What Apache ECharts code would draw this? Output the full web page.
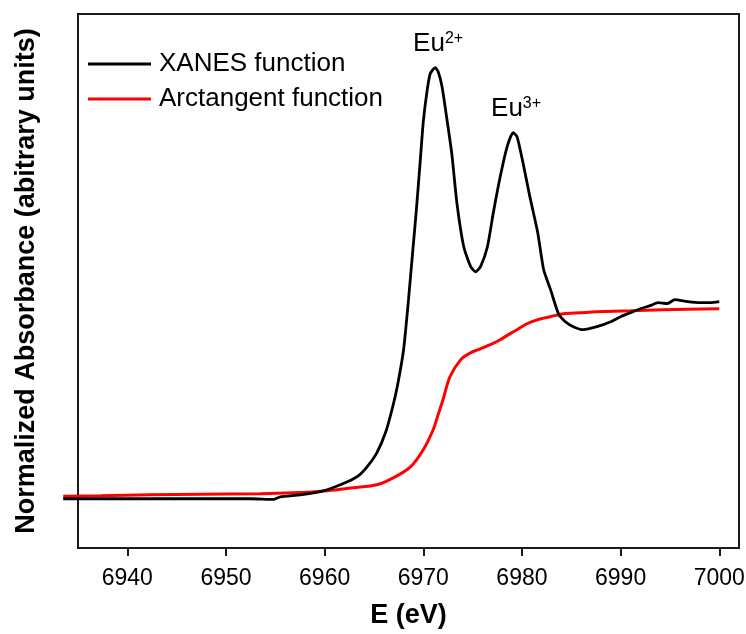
<!DOCTYPE html>
<html>
<head>
<meta charset="utf-8">
<title>Eu L3-edge XANES</title>
<script src="https://cdn.jsdelivr.net/npm/echarts@6/dist/echarts.min.js"></script>
<style>
  html, body { margin: 0; padding: 0; background: #ffffff; }
  #chart { width: 746px; height: 634px; }
</style>
</head>
<body>
<div id="chart"></div>
<script>
// Measured XANES spectrum (energy in eV, normalized absorbance)
const xanesEnergy = [6933.5, 6937.3, 6942.3, 6947.4, 6952.5, 6954.8, 6955.5, 6957.5, 6959.6, 6961.6,
  6963.3, 6964.3, 6965.3, 6966.2, 6966.9, 6967.4, 6968.0, 6968.5, 6968.9, 6969.3,
  6969.7, 6970.0, 6970.4, 6970.7, 6971.2, 6971.5, 6971.9, 6972.4, 6972.9, 6973.4,
  6974.1, 6974.8, 6975.3, 6975.8, 6976.5, 6977.1, 6977.8, 6978.5, 6979.1, 6979.5,
  6980.1, 6980.8, 6981.6, 6982.2, 6982.9, 6983.7, 6984.4, 6985.2, 6986.2, 6987.6,
  6989.0, 6990.0, 6991.0, 6992.0, 6993.0, 6993.8, 6994.7, 6995.5, 6996.8, 6998.1,
  6999.1, 7000.0];
const xanesAbsorbance = [0, 0, 0, 0, 0, -0.003, 0.010, 0.020, 0.036, 0.071,
  0.112, 0.162, 0.234, 0.340, 0.467, 0.579, 0.756, 1.010, 1.239, 1.467,
  1.721, 1.914, 2.076, 2.157, 2.188, 2.168, 2.091, 1.924, 1.746, 1.503,
  1.279, 1.178, 1.152, 1.178, 1.279, 1.452, 1.635, 1.787, 1.858, 1.838,
  1.706, 1.533, 1.350, 1.162, 1.061, 0.939, 0.898, 0.873, 0.858, 0.873,
  0.898, 0.924, 0.944, 0.964, 0.980, 0.995, 0.990, 1.010, 1.000, 0.995,
  0.995, 1.000];

// Arctangent edge-step model
const arctanEnergy = [6933.5, 6937.3, 6942.3, 6947.4, 6953.5, 6956.8, 6960.3, 6962.9, 6965.3, 6967.0,
  6968.7, 6970.0, 6971.0, 6971.5, 6972.0, 6972.7, 6973.8, 6974.8, 6975.5, 6976.8,
  6977.8, 6978.8, 6979.5, 6980.5, 6981.6, 6982.9, 6984.2, 6985.9, 6987.6, 6991.0,
  6994.3, 7000.0];
const arctanAbsorbance = [0.013, 0.015, 0.020, 0.023, 0.025, 0.030, 0.041, 0.056, 0.071, 0.107,
  0.162, 0.249, 0.350, 0.426, 0.503, 0.619, 0.706, 0.741, 0.756, 0.782,
  0.807, 0.838, 0.858, 0.888, 0.909, 0.924, 0.939, 0.944, 0.949, 0.954,
  0.959, 0.964];

const energyTicks = [6940, 6950, 6960, 6970, 6980, 6990, 7000];
const seriesNames = ['XANES function', 'Arctangent function'];
// white-line peaks: oxidation state and the energy window holding each maximum
const peakStates = ['2+', '3+'];
const peakWindows = [[6968, 6975], [6976, 6983]];

// axis ranges: framed window, and the scan itself which starts a little before it
const frameMinE = 6935, frameMaxE = 7002;
const absMin = -0.25, absMax = 2.46;
const scanMinE = Math.min(xanesEnergy[0], arctanEnergy[0]);

function pairs(xs, ys) { return xs.map((x, i) => [x, ys[i]]); }

function peakIn(win) {
  let best = -1;
  xanesEnergy.forEach((e, i) => {
    if (e >= win[0] && e <= win[1] && (best < 0 || xanesAbsorbance[i] > xanesAbsorbance[best])) best = i;
  });
  return [xanesEnergy[best], xanesAbsorbance[best]];
}

const sansFont = '"Liberation Sans", Arial, sans-serif';
const frameLeft = 78, frameRight = 7;
// the curve grid shares the frame's px/eV scale but starts at the first scan point
const pxPerEv = (746 - frameLeft - frameRight) / (frameMaxE - frameMinE);
const curveLeft = frameLeft - (frameMinE - scanMinE) * pxPerEv;

const chart = echarts.init(document.getElementById('chart'), null, { renderer: 'canvas' });
chart.setOption({
  animation: false,
  backgroundColor: '#ffffff',
  grid: [
    { // framed plot with the visible axes
      left: frameLeft, right: frameRight, top: 14, bottom: 86,
      outerBoundsMode: 'none', containLabel: false,
      show: true, borderColor: '#1a1a1a', borderWidth: 2, backgroundColor: 'transparent'
    },
    { // curve layer
      left: curveLeft, right: frameRight, top: 14, bottom: 86,
      outerBoundsMode: 'none', containLabel: false, show: false
    }
  ],
  legend: {
    data: seriesNames,
    orient: 'vertical',
    left: 83, top: 46,
    icon: 'rect', itemWidth: 63, itemHeight: 3, itemGap: 9,
    textStyle: { fontFamily: sansFont, fontSize: 26, color: '#000', padding: [0, 0, 0, 3] }
  },
  xAxis: [
    {
      gridIndex: 0, type: 'value', min: frameMinE, max: frameMaxE,
      name: 'E (eV)', nameLocation: 'middle', nameGap: 54,
      nameTextStyle: { fontFamily: sansFont, fontSize: 27, fontWeight: 'bold', color: '#000' },
      axisLine: { show: true, onZero: false, lineStyle: { color: '#1a1a1a', width: 2 } },
      axisTick: { show: true, length: 8, lineStyle: { color: '#1a1a1a', width: 2 }, customValues: energyTicks },
      axisLabel: {
        fontFamily: sansFont, fontSize: 23, color: '#000', margin: 19,
        customValues: energyTicks, formatter: v => String(v)
      },
      splitLine: { show: false }
    },
    {
      gridIndex: 1, type: 'value', min: scanMinE, max: frameMaxE, show: false
    }
  ],
  yAxis: [
    {
      gridIndex: 0, type: 'value', min: absMin, max: absMax,
      name: 'Normalized Absorbance (abitrary units)', nameLocation: 'middle', nameGap: 38,
      nameTextStyle: { fontFamily: sansFont, fontSize: 27, fontWeight: 'bold', color: '#000' },
      axisLine: { show: true, onZero: false, lineStyle: { color: '#1a1a1a', width: 2 } },
      axisTick: { show: false },
      axisLabel: { show: false },
      splitLine: { show: false }
    },
    {
      gridIndex: 1, type: 'value', min: absMin, max: absMax, show: false
    }
  ],
  series: [
    {
      name: seriesNames[0], type: 'line', xAxisIndex: 1, yAxisIndex: 1,
      data: pairs(xanesEnergy, xanesAbsorbance),
      showSymbol: false, smooth: 0.2, clip: false,
      lineStyle: { color: '#000', width: 2.8 }, itemStyle: { color: '#000' },
      markPoint: {
        symbol: 'circle', symbolSize: 0, silent: true,
        label: {
          show: true, position: 'top', distance: 11, offset: [3, 0],
          formatter: p => '{b|Eu}{s|' + p.name + '}',
          rich: {
            b: { fontFamily: sansFont, fontSize: 26, color: '#000' },
            s: { fontFamily: sansFont, fontSize: 16, color: '#000', verticalAlign: 'top', lineHeight: 14 }
          }
        },
        data: peakStates.map((st, k) => ({ name: st, coord: peakIn(peakWindows[k]) }))
      },
      z: 3
    },
    {
      name: seriesNames[1], type: 'line', xAxisIndex: 1, yAxisIndex: 1,
      data: pairs(arctanEnergy, arctanAbsorbance),
      showSymbol: false, smooth: 0.3, clip: false,
      lineStyle: { color: '#ff0000', width: 3 }, itemStyle: { color: '#ff0000' },
      z: 2
    }
  ]
});
</script>
</body>
</html>
